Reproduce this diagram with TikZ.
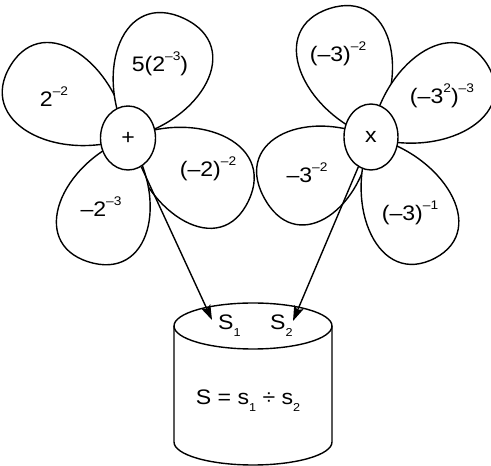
\documentclass[tikz,border=0pt]{standalone}
\usepackage{fontspec}
\setmainfont{Liberation Sans}[FakeStretch=1.1]
\usetikzlibrary{arrows.meta,shapes.geometric}
\newcommand{\expo}[1]{\raisebox{0.55em}{\fontsize{12.5}{13}\selectfont #1}}
\newcommand{\idx}[1]{\raisebox{-0.33em}{\fontsize{11.5}{12}\selectfont #1}}
\newcommand{\petal}[5]{%
  \draw[leaf,shift={(#1)},rotate=#2] (0,0)
    .. controls (0.35*#3,-1.25*#4) and (#3,-1.4*#4) .. (#3,0)
    .. controls (#3,1.4*#5) and (0.35*#3,1.25*#5) .. (0,0) -- cycle;}
\tikzset{
  leaf/.style={draw=black,fill=white,line width=1.4pt,line join=round},
  hub/.style={ellipse,draw=black,fill=white,line width=1.4pt,inner sep=0pt,
    minimum width=55pt,minimum height=64pt},
  lbl/.style={anchor=base,inner sep=0pt},
  flow/.style={-{Stealth[length=15pt,width=10pt,inset=3pt]},line width=1.4pt},
  wall/.style={draw=black,line width=1.4pt}}

\begin{document}
\begin{tikzpicture}[x=1pt,y=1pt,font=\fontsize{21}{24}\selectfont]
\useasboundingbox (0,0) rectangle (491,466);
\coordinate (c1) at (128,328);
\coordinate (c2) at (371,329);

% left flower
\petal{c1}{148}{138}{46}{48}
\petal{c1}{65}{132}{48}{48}
\petal{c1}{-30}{136}{44}{50}
\petal{c1}{-108}{130}{45}{47}
\node[hub] (plus) at (c1) {+};

% right flower
\petal{c2}{108}{135}{47}{47}
\petal{c2}{32}{137}{45}{45}
\petal{c2}{-148}{123}{50}{45}
\petal{c2}{-62}{137}{46}{44}
\node[hub,minimum width=54pt,minimum height=66pt] (times) at (c2) {x};

% tank
\draw[wall,fill=white] (174,140) -- (174,24)
  arc[start angle=180,end angle=360,x radius=79,y radius=23] -- (332,140);
\draw[wall] (253,140) ellipse[x radius=79,y radius=23];

% stems
\coordinate (tip1) at (212,146);
\coordinate (tip2) at (293,145);
\draw[flow] (plus) -- (tip1);
\draw[flow] (times) -- (tip2);

% labels
\node[lbl] (a1) at (54,359) {2\expo{–2}};
\node[lbl] (a2) at (160,394) {5(2\expo{–3})};
\node[lbl] (a3) at (208,289) {(–2)\expo{–2}};
\node[lbl] (a4) at (101,249) {–2\expo{–3}};
\node[lbl] (b1) at (338,404) {(–3)\expo{–2}};
\node[lbl] (b2) at (442,362) {(–3\expo{2})\expo{–3}};
\node[lbl] (b3) at (307,283) {–3\expo{–2}};
\node[lbl] (b4) at (410,245) {(–3)\expo{–1}};
\node[lbl,anchor=base west] (s1) at (218,136) {S\idx{1}};
\node[lbl,anchor=base west] (s2) at (270,136) {S\idx{2}};
\node[lbl] (rule) at (248,61) {S = s\idx{1} ÷ s\idx{2}};
\end{tikzpicture}
\end{document}
